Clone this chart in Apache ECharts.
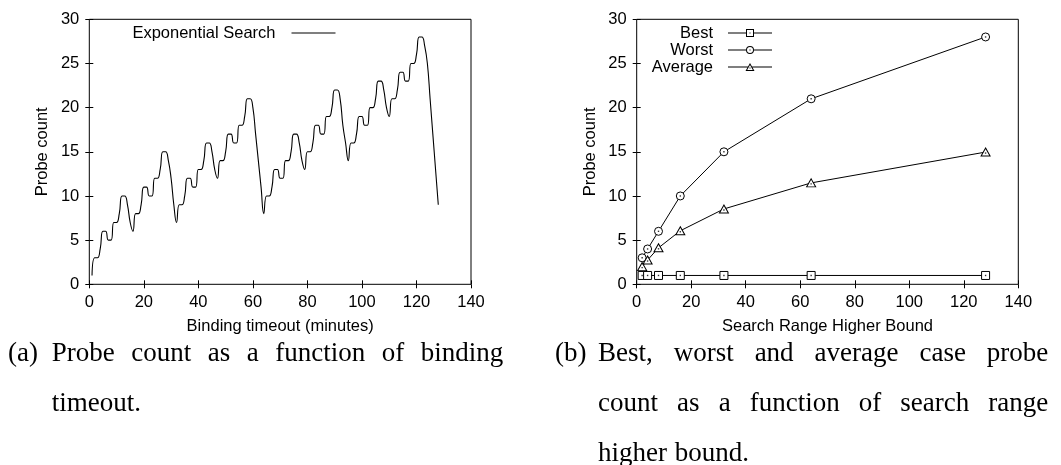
<!DOCTYPE html>
<html>
<head>
<meta charset="utf-8">
<script src="https://cdn.jsdelivr.net/npm/echarts@6/dist/echarts.min.js"></script>
<style>
  html, body { margin: 0; padding: 0; background: #fff; }
  #chart { width: 1061px; height: 465px; }
</style>
</head>
<body>
<div id="chart"></div>
<script>
// (a) probe count for each binding timeout, one sample per minute (1..128)
const timeoutMinutes = Array.from({ length: 128 }, (_, i) => i + 1);
const probeCounts = [
  1, 3, 3, 4, 6, 6, 5, 5, 7, 7,
  8, 10, 10, 9, 7, 6, 8, 8, 9, 11,
  11, 10, 10, 12, 12, 13, 15, 15, 14, 12,
  9, 7, 9, 9, 10, 12, 12, 11, 11, 13,
  13, 14, 16, 16, 15, 13, 12, 14, 14, 15,
  17, 17, 16, 16, 18, 18, 19, 21, 21, 20,
  17, 14, 11, 8, 10, 10, 11, 13, 13, 12,
  12, 14, 14, 15, 17, 17, 16, 14, 13, 15,
  15, 16, 18, 18, 17, 17, 19, 19, 20, 22,
  22, 21, 18, 16, 14, 16, 16, 17, 19, 19,
  18, 18, 20, 20, 21, 23, 23, 22, 20, 19,
  21, 21, 22, 24, 24, 23, 23, 25, 25, 26,
  28, 28, 27, 25, 21, 17, 13, 9
];

// (b) best / worst / average probe count per search range higher bound
const rangeBounds = [2, 4, 8, 16, 32, 64, 128];
const bestCase = [1, 1, 1, 1, 1, 1, 1];
const worstCase = [3, 4, 6, 10, 15, 21, 28];
const averageCase = [2, 2.75, 4.13, 6.06, 8.53, 11.48, 14.97];

const xRange = { min: 0, max: 140, interval: 20 };
const yRange = { min: 0, max: 30, interval: 5 };

const SANS = '"Liberation Sans", Arial, Helvetica, sans-serif';
const LABEL_SIZE = 16.5;
const INK = '#000';

function pairs(xs, ys) {
  return xs.map((x, i) => [x, ys[i]]);
}

// A boxed frame: labelled bottom/left axes plus mirrored ticks on top/right.
function frameX(gridIndex, name) {
  const common = {
    type: 'value', gridIndex, ...xRange,
    axisLine: { show: false },
    axisTick: { show: true, inside: true, length: 4, lineStyle: { color: INK, width: 1 } },
    splitLine: { show: false }
  };
  return [
    Object.assign({}, common, {
      position: 'bottom',
      axisLabel: { color: INK, fontSize: LABEL_SIZE, fontFamily: SANS, margin: 10 },
      name, nameLocation: 'middle', nameGap: 34, nameMoveOverlap: false,
      nameTextStyle: { color: INK, fontSize: LABEL_SIZE, fontFamily: SANS }
    }),
    Object.assign({}, common, { position: 'top', axisLabel: { show: false } })
  ];
}

function frameY(gridIndex, name) {
  const common = {
    type: 'value', gridIndex, ...yRange,
    axisLine: { show: false },
    axisTick: { show: true, inside: true, length: 4, lineStyle: { color: INK, width: 1 } },
    splitLine: { show: false }
  };
  return [
    Object.assign({}, common, {
      position: 'left',
      axisLabel: { color: INK, fontSize: LABEL_SIZE, fontFamily: SANS, margin: 10 },
      name, nameLocation: 'middle', nameGap: 38, nameRotate: 90, nameMoveOverlap: false,
      nameTextStyle: { color: INK, fontSize: LABEL_SIZE, fontFamily: SANS }
    }),
    Object.assign({}, common, { position: 'right', axisLabel: { show: false } })
  ];
}

// Legend keys: a short rule with the point marker in its middle (leading blank keeps the text gap).
const KEY_FRAME = 'M0,0L0,0M54,10L54,10';
const keyIcons = {
  line: 'path://M0,0L0,0M55,10L55,10M11,4.5H55V5.5H11Z',
  square: 'path://' + KEY_FRAME +
    'M10,4.5H28V5.5H10Z M36,4.5H54V5.5H36Z M28,1H36V9H28Z M29,2V8H35V2Z M31.5,4.5H32.5V5.5H31.5Z',
  circle: 'path://' + KEY_FRAME +
    'M10,4.5H28V5.5H10Z M36,4.5H54V5.5H36Z M28,5A4,4 0 1,1 36,5A4,4 0 1,1 28,5Z M29,5A3,3 0 1,0 35,5A3,3 0 1,0 29,5Z M31.5,4.5H32.5V5.5H31.5Z',
  triangle: 'path://' + KEY_FRAME +
    'M10,4.5H29.9V5.5H10Z M34.1,4.5H54V5.5H34.1Z M32,1L36.5,9L27.5,9Z M32,3.05L29.2,8L34.8,8Z M31.5,5.6H32.5V6.6H31.5Z'
};

// Open point markers: white face with a thin black outline over the connecting line.
function markerSeries(name, ys, symbol) {
  return {
    name, type: 'line', xAxisIndex: 2, yAxisIndex: 2,
    data: pairs(rangeBounds, ys),
    symbol, symbolSize: symbol === 'triangle' ? [9, 8] : 8,
    showSymbol: true,
    lineStyle: { color: INK, width: 1 },
    itemStyle: { color: '#fff', borderColor: INK, borderWidth: 1 },
    emphasis: { disabled: true }, z: 3
  };
}

function centreDots(ys, dy) {
  return {
    type: 'scatter', xAxisIndex: 2, yAxisIndex: 2,
    data: pairs(rangeBounds, ys),
    symbol: 'rect', symbolSize: 1.4, symbolOffset: [0, dy || 0],
    itemStyle: { color: INK }, silent: true, z: 5
  };
}

// Sub-figure captions, justified word by word like the typeset text.
const CAPTION_FONT = '27px "Liberation Serif", "Times New Roman", serif';
const measureCtx = document.createElement('canvas').getContext('2d');
measureCtx.font = CAPTION_FONT;

function captionLine(words, x0, x1, y, justify) {
  const widths = words.map(w => measureCtx.measureText(w).width);
  const total = widths.reduce((a, b) => a + b, 0);
  const gap = justify && words.length > 1
    ? (x1 - x0 - total) / (words.length - 1)
    : measureCtx.measureText(' ').width * 1.15;
  let x = x0;
  return words.map((w, i) => {
    const el = {
      type: 'text', x, y, silent: true,
      style: { text: w, font: CAPTION_FONT, fill: INK, align: 'left', verticalAlign: 'middle',
               textAlign: 'left', textVerticalAlign: 'middle' }
    };
    x += widths[i] + gap;
    return el;
  });
}

const captions = [].concat(
  captionLine(['(a)'], 8, 8, 354, false),
  captionLine(['Probe', 'count', 'as', 'a', 'function', 'of', 'binding'], 51.7, 503.3, 354, true),
  captionLine(['timeout.'], 51.7, 51.7, 404, false),
  captionLine(['(b)'], 555, 555, 354, false),
  captionLine(['Best,', 'worst', 'and', 'average', 'case', 'probe'], 598, 1048.3, 354, true),
  captionLine(['count', 'as', 'a', 'function', 'of', 'search', 'range'], 598, 1048.3, 404, true),
  captionLine(['higher', 'bound.'], 598, 598, 454, false)
);

const [ax0, ax1] = frameX(0, 'Binding timeout (minutes)');
const [ax2, ax3] = frameX(1, 'Search Range Higher Bound');
const [ay0, ay1] = frameY(0, 'Probe count');
const [ay2, ay3] = frameY(1, 'Probe count');

const legendText = { color: INK, fontSize: LABEL_SIZE, fontFamily: SANS, lineHeight: 16.7 };

const option = {
  animation: false,
  backgroundColor: '#fff',
  grid: [
    { left: 89.3, right: 1061 - 471, top: 19.3, bottom: 465 - 284.3,
      show: true, borderColor: INK, borderWidth: 1, backgroundColor: 'transparent',
      outerBoundsMode: 'none', containLabel: false },
    { left: 636.7, right: 1061 - 1018.3, top: 19.3, bottom: 465 - 284.3,
      show: true, borderColor: INK, borderWidth: 1, backgroundColor: 'transparent',
      outerBoundsMode: 'none', containLabel: false }
  ],
  xAxis: [ax0, ax1, ax2, ax3],
  yAxis: [ay0, ay1, ay2, ay3],
  legend: [
    {
      data: [{ name: 'Exponential Search', icon: keyIcons.line }],
      orient: 'vertical', align: 'right', right: 1061 - 335.5, top: 24.5,
      padding: 0, itemGap: 0, itemWidth: 55, itemHeight: 10,
      selectedMode: false, textStyle: legendText,
      itemStyle: { color: INK, borderWidth: 0 }
    },
    {
      data: [
        { name: 'Best', icon: keyIcons.square },
        { name: 'Worst', icon: keyIcons.circle },
        { name: 'Average', icon: keyIcons.triangle }
      ],
      orient: 'vertical', align: 'right', right: 1061 - 772, top: 24.5,
      padding: 0, itemGap: 0, itemWidth: 54, itemHeight: 10,
      selectedMode: false, textStyle: legendText,
      itemStyle: { color: INK, borderWidth: 0 }
    }
  ],
  series: [
    {
      name: 'Exponential Search', type: 'line', xAxisIndex: 0, yAxisIndex: 0,
      data: pairs(timeoutMinutes, probeCounts),
      smooth: 0.5, symbol: 'none', showSymbol: false,
      lineStyle: { color: INK, width: 1.1 },
      itemStyle: { color: INK },
      emphasis: { disabled: true }
    },
    markerSeries('Best', bestCase, 'rect'),
    markerSeries('Worst', worstCase, 'circle'),
    markerSeries('Average', averageCase, 'triangle'),
    centreDots(bestCase),
    centreDots(worstCase),
    centreDots(averageCase, 1)
  ],
  graphic: { elements: captions }
};

const chart = echarts.init(document.getElementById('chart'), null, { renderer: 'canvas' });
chart.setOption(option);
</script>
</body>
</html>
